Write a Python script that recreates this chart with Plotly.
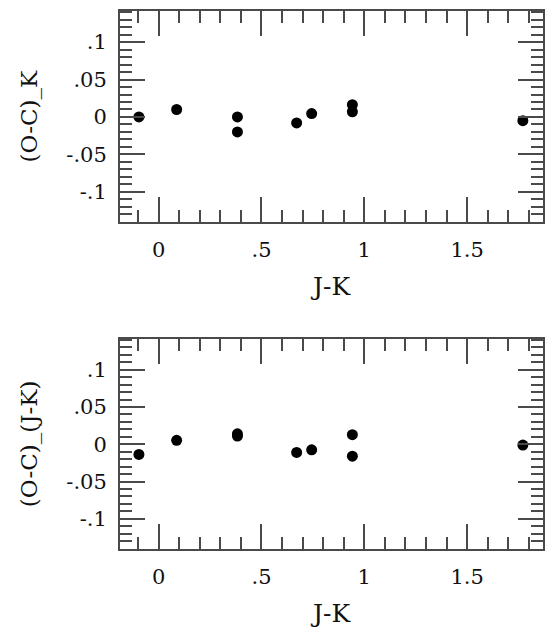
import plotly.graph_objects as go

# J-K colour of each star
jk = [-0.096, 0.0875, 0.383, 0.383, 0.671, 0.744, 0.942, 0.942, 1.771]
# residuals in K
oc_k = [0.0, 0.010, 0.0, -0.020, -0.008, 0.0045, 0.0165, 0.007, -0.005]
# residuals in J-K
oc_jk = [-0.0137, 0.0053, 0.011, 0.014, -0.011, -0.0075, 0.0128, -0.016, -0.001]

x_tickvals = [0, 0.5, 1, 1.5]
x_ticktext = ["0", ".5", "1", "1.5"]
y_tickvals = [-0.1, -0.05, 0, 0.05, 0.1]
y_ticktext = ["-.1", "-.05", "0", ".05", ".1"]

FONT = "DejaVu Serif"
AXC = "#4a4a4a"

fig = go.Figure()
fig.add_trace(go.Scatter(x=jk, y=oc_k, mode="markers", xaxis="x", yaxis="y",
                         marker=dict(color="black", size=11), showlegend=False))
fig.add_trace(go.Scatter(x=jk, y=oc_jk, mode="markers", xaxis="x2", yaxis="y2",
                         marker=dict(color="black", size=11), showlegend=False))

def xax(anchor):
    return dict(range=[-0.188, 1.869], tickvals=x_tickvals, ticktext=x_ticktext,
                ticks="inside", ticklen=25, tickwidth=1.5, tickcolor=AXC,
                showline=True, linewidth=2, linecolor=AXC, mirror="ticks",
                showgrid=False, zeroline=False, anchor=anchor,
                ticklabelstandoff=8,
                tickfont=dict(family=FONT, size=21, color="#111"),
                minor=dict(ticks="inside", ticklen=12, dtick=0.1, tick0=0,
                           tickcolor=AXC, tickwidth=1.5, showgrid=False),
                title=dict(text="J-K", font=dict(family=FONT, size=25, color="#111"),
                           standoff=16))

def yax(domain, anchor, title):
    return dict(range=[-0.1405, 0.1415], domain=domain, anchor=anchor,
                tickvals=y_tickvals, ticktext=y_ticktext,
                ticks="inside", ticklen=25, tickwidth=1.5, tickcolor=AXC,
                showline=True, linewidth=2, linecolor=AXC, mirror="ticks",
                showgrid=False, zeroline=False,
                ticklabelstandoff=7,
                tickfont=dict(family=FONT, size=21, color="#111"),
                minor=dict(ticks="inside", ticklen=12, dtick=0.01, tick0=0,
                           tickcolor=AXC, tickwidth=1.5, showgrid=False),
                title=dict(text=title, font=dict(family=FONT, size=23, color="#111"),
                           standoff=22))

fig.update_layout(
    width=552, height=626,
    margin=dict(l=112, r=17, t=1, b=85),
    paper_bgcolor="white", plot_bgcolor="white",
    xaxis=xax("y"), yaxis=yax([0.6074, 1.0], "x", "(O-C)_K"),
    xaxis2=xax("y2"), yaxis2=yax([0.0, 0.3907], "x2", "(O-C)_(J-K)"),
)

fig.write_html("out.html")
